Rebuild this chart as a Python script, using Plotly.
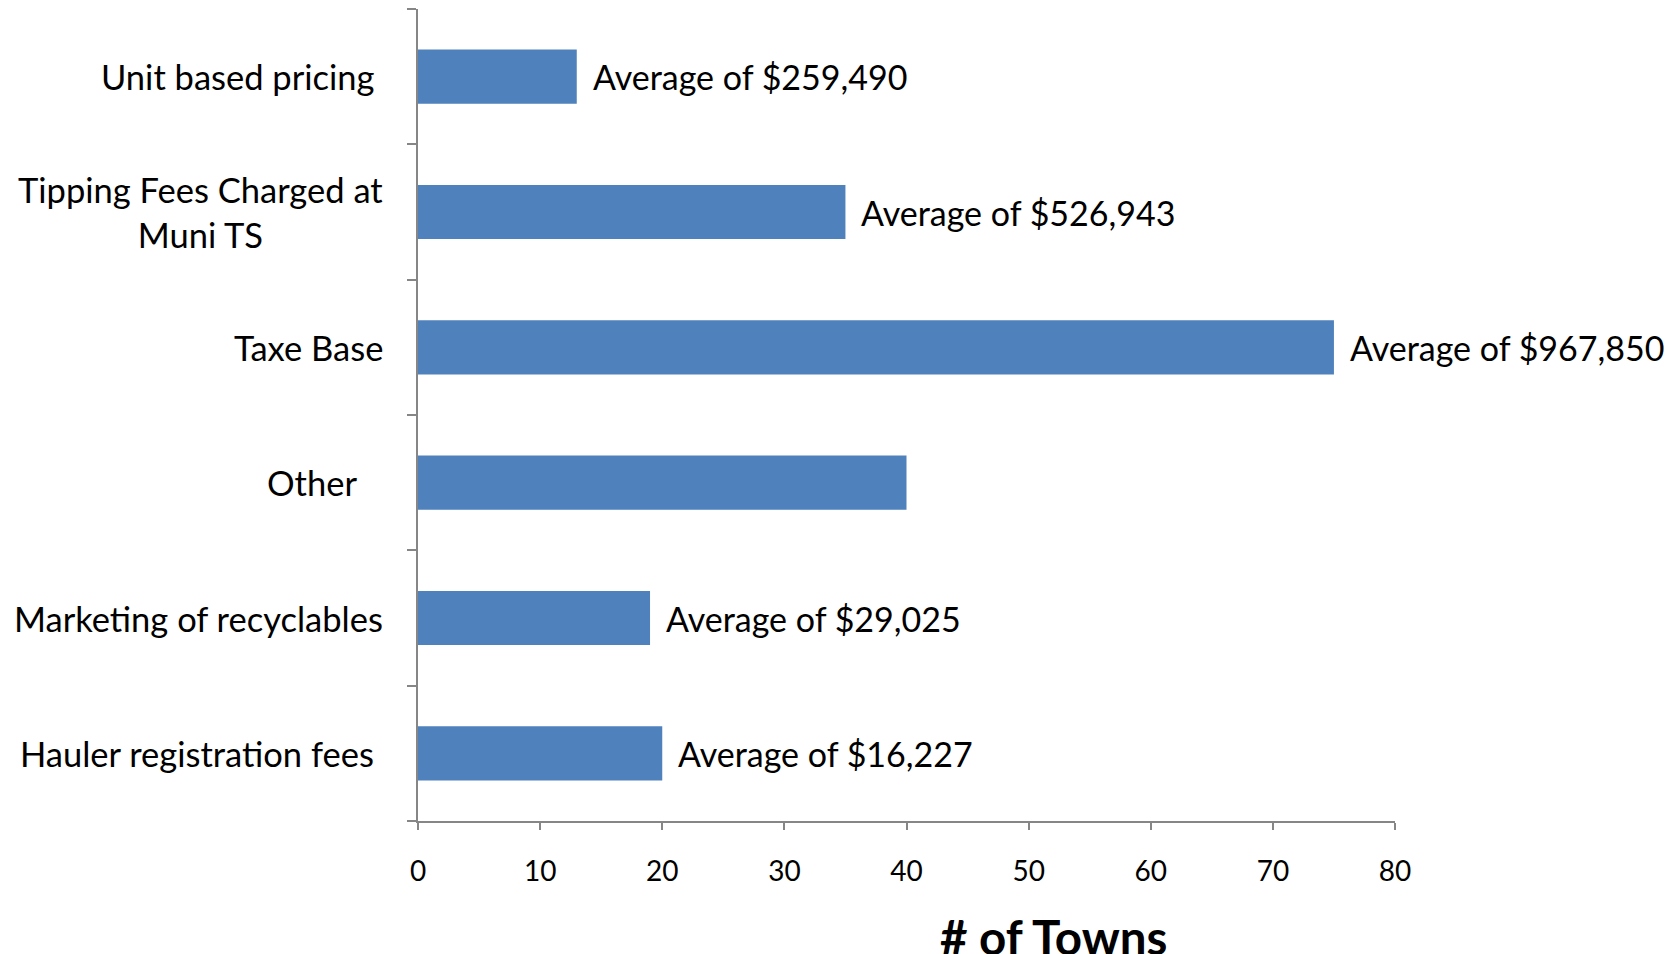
import plotly.graph_objects as go

categories = ["Hauler registration fees", "Marketing of recyclables", "Other",
              "Taxe Base", "Tipping Fees Charged at<br>Muni TS", "Unit based pricing"]
label_text = ["Hauler registration fees&nbsp;", "Marketing of recyclables", "Other&nbsp;&nbsp;&nbsp;",
              "Taxe Base", "Tipping Fees Charged at<br>Muni TS", "Unit based pricing&nbsp;"]
towns = [20, 19, 40, 75, 35, 13]
averages = ["Average of $16,227", "Average of $29,025", "",
            "Average of $967,850", "Average of $526,943", "Average of $259,490"]
x_ticks = [0, 10, 20, 30, 40, 50, 60, 70, 80]

FONT = "Lato, 'Open Sans', sans-serif"
BAR = "#4F81BD"
AXIS = "#868686"

fig = go.Figure(go.Bar(
    y=categories, x=towns, orientation="h",
    marker=dict(color=BAR, line=dict(width=0)),
    hoverinfo="x+y",
))

annotations = []
for cat, val, txt in zip(categories, towns, averages):
    if txt:
        annotations.append(dict(x=val, y=cat, xref="x", yref="y", text=txt,
                                showarrow=False, xanchor="left", xshift=14,
                                font=dict(family=FONT, size=34, color="#000000")))
for cat, lab in zip(categories, label_text):
    annotations.append(dict(x=0, y=cat, xref="paper", yref="y", text=lab,
                            showarrow=False, xanchor="right", xshift=-33, align="center",
                            font=dict(family=FONT, size=34.5, color="#000000")))
annotations.append(dict(x=0.65, y=-0.142, xref="paper", yref="paper", text="<b># of Towns</b>",
                        showarrow=False, xanchor="center", yanchor="middle",
                        font=dict(family=FONT, size=47.5, color="#000000")))

fig.update_layout(
    width=1677, height=954,
    margin=dict(l=410, r=290, t=1, b=141),
    paper_bgcolor="white", plot_bgcolor="white",
    bargap=0.6,
    showlegend=False,
    annotations=annotations,
    xaxis=dict(range=[0, 80], tickvals=x_ticks, showgrid=False, zeroline=False,
               showline=True, linecolor=AXIS, linewidth=2,
               ticks="outside", ticklen=7, tickwidth=2, tickcolor=AXIS,
               ticklabelstandoff=17,
               tickfont=dict(family=FONT, size=28, color="#000000")),
    yaxis=dict(type="category", categoryorder="array", categoryarray=categories,
               showgrid=False, zeroline=False, showline=True, linecolor=AXIS, linewidth=2,
               ticks="outside", ticklen=9, tickwidth=2, tickcolor=AXIS,
               tickson="boundaries", showticklabels=False),
)

fig.write_html("out.html")
